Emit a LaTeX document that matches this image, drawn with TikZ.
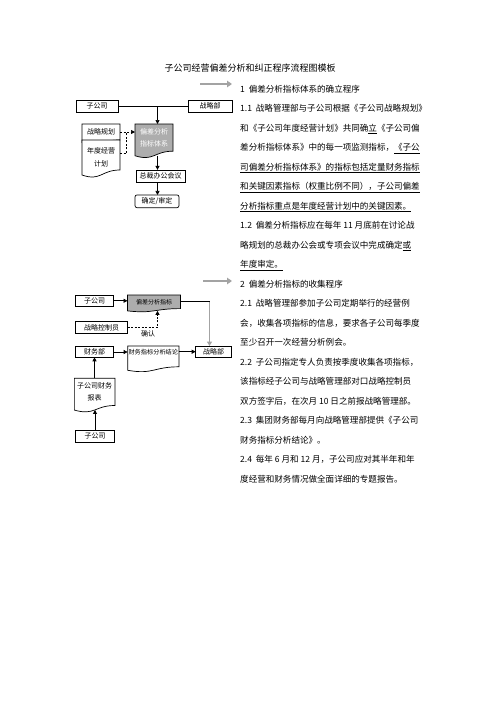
\documentclass[tikz,border=0pt]{standalone}
\usepackage{fontspec}
\setmainfont{Noto Sans CJK SC}
\usepackage{xcolor}
\usetikzlibrary{positioning,calc,arrows.meta}
\pgfdeclarelayer{bg}
\pgfsetlayers{bg,main}
\definecolor{docgray}{HTML}{ADADAD}
\definecolor{arrowgray}{HTML}{A3A3A3}

% outline of a document shape below a node: node, total height
\newcommand{\docshape}[3][]{%
  \begin{pgfonlayer}{bg}
    \path[draw,line width=0.7pt,fill=white,#1] (#2.north west) -- (#2.north east)
      -- ($(#2.north east)+(0,0.8*#3)$)
      .. controls ($(#2.north)+(0,0.8*#3)$) and ($(#2.north)+(0,1.107*#3)$)
      .. ($(#2.north west)+(0,0.934*#3)$) -- cycle;
  \end{pgfonlayer}
  \coordinate (#2-b) at ($(#2.north)+(0,0.93*#3)$);}
\newcommand{\num}[1]{#1\hspace{0.45em}}

\begin{document}
\begin{tikzpicture}[x=1pt,y=-1pt,
    box/.style={draw,line width=0.7pt,inner sep=0pt,outer sep=0pt,
      font=\fontsize{7}{12}\selectfont},
    doc/.style={anchor=north,inner sep=0pt,outer sep=0pt,align=center,
      font=\fontsize{7}{12}\selectfont},
    para/.style={anchor=north west,inner sep=0pt,align=left,
      font=\fontsize{8.55}{19.5}\selectfont},
    link/.style={line width=0.7pt,-{Triangle[length=4pt,width=4pt]}},
    dashlink/.style={line width=0.7pt,dashed,dash pattern=on 2pt off 1.5pt},
    graylink/.style={line width=1.3pt,arrowgray,-{Triangle[length=4.5pt,width=5pt]}},
    bigarrow/.style={line width=2pt,arrowgray,-{Triangle[length=5pt,width=6.5pt]}}]
  \useasboundingbox (0,0) rectangle (496,702);

  \node[font=\fontsize{9}{10}\selectfont] (title) at (250,68) {子公司经营偏差分析和纠正程序流程图模板};

  % part 1
  \draw[bigarrow] (200,84) -- (232,84);
  \node[para] (sec1) at (240,85) {\num{1}偏差分析指标体系的确立程序\\
    \num{1.1}战略管理部与子公司根据《子公司战略规划》\\
    和《子公司年度经营计划》共同确\underline{立}《子公司偏\\
    差分析指标体系》中的每一项监测指标，\underline{《子公}\\
    \underline{司偏差分析指标体系》的指标包括定量财务指标}\\
    \underline{和关键因素指标（权重比例不同），子公司偏差}\\
    \underline{分析指标重点是年度经营计划中的关键因素。}\\
    \num{1.2}偏差分析指标应在每年 11 月底前在讨论战\\
    略规划的总裁办公会或专项会议中完成确定\underline{或}\\
    \underline{年度审定。}};

  \node[box,minimum width=42pt,minimum height=12pt] (sub1) at (97,106) {子公司};
  \node[box,minimum width=44pt,minimum height=12pt] (strat1) at (210,106) {战略部};
  \coordinate (j1) at (157.5,106);

  \node[doc,text=white,minimum width=38pt,text width=38pt,minimum height=27pt] (dev1) at (154,124) {偏差分析\\指标体系};
  \docshape[fill=docgray]{dev1}{34}
  \node[doc,minimum width=38pt,text width=38pt,minimum height=16pt] (plan) at (101,124) {战略规划};
  \docshape{plan}{20}
  \node[doc,minimum width=38pt,text width=38pt,minimum height=34pt,
    font=\fontsize{7}{13}\selectfont] (annual) at (101,140) {年度经营\\计划};
  \docshape{annual}{37.5}

  \node[box,minimum width=49pt,minimum height=12.3pt] (meet) at (160.5,176) {总裁办公会议};
  \node[box,rounded corners=2pt,minimum width=44pt,minimum height=12.7pt] (decide) at (157,201.3) {确定/审定};

  \draw[line width=0.7pt] (sub1) -- (strat1);
  \draw[link] (j1) -- (j1 |- dev1.north);
  \coordinate (d1) at ($(plan.east)!0.45!(plan.east -| dev1.west)$);
  \draw[dashlink,-{Triangle[length=4pt,width=4pt]}] (plan.east) -- (plan.east -| dev1.west);
  \draw[dashlink] ($(annual.east)+(0,-4)$) -| (d1);
  \draw[link] (j1 |- dev1-b) -- (j1 |- meet.north);
  \draw[link] (j1 |- meet.south) -- (j1 |- decide.north);

  % part 2
  \draw[bigarrow] (203,281) -- (232,281);
  \node[para] (sec2) at (240,280) {\num{2}偏差分析指标的收集程序\\
    \num{2.1}战略管理部参加子公司定期举行的经营例\\
    会，收集各项指标的信息，要求各子公司每季度\\
    至少召开一次经营分析例会。\\
    \num{2.2}子公司指定专人负责按季度收集各项指标，\\
    该指标经子公司与战略管理部对口战略控制员\\
    双方签字后，在次月 10 日之前报战略管理部。\\
    \num{2.3}集团财务部每月向战略管理部提供《子公司\\
    财务指标分析结论》。\\
    \num{2.4}每年 6 月和 12 月，子公司应对其半年和年\\
    度经营和财务情况做全面详细的专题报告。};

  \node[box,minimum width=37.6pt,minimum height=11.7pt] (sub2) at (94.5,300.8) {子公司};
  \node[doc,minimum width=53pt,text width=53pt,minimum height=13.6pt,
    font=\fontsize{6}{8}\selectfont] (dev2) at (154,295) {偏差分析指标};
  \docshape[fill=docgray]{dev2}{17}
  \node[box,minimum width=52pt,minimum height=11.6pt] (ctrl) at (101.7,327.5) {战略控制员};
  \node[font=\fontsize{7}{8}\selectfont] (ok) at (148,334) {确认};
  \node[box,minimum width=37.6pt,minimum height=10.6pt] (fin) at (94.5,352) {财务部};
  \node[doc,minimum width=51.3pt,text width=51.3pt,minimum height=11.4pt,
    font=\fontsize{6.2}{8}\selectfont] (findoc) at (153.3,346) {财务指标分析结论};
  \docshape{findoc}{26}
  \node[box,minimum width=36pt,minimum height=11.3pt] (strat2) at (213.7,351.7) {战略部};
  \node[doc,minimum width=40.7pt,text width=40.7pt,minimum height=27.2pt] (ftab) at (94.7,378.3) {子公司财务\\报表};
  \docshape{ftab}{34}
  \node[box,minimum width=38.6pt,minimum height=12.7pt] (sub3) at (95,436.4) {子公司};

  \draw[link] (sub2.east) -- (sub2.east -| dev2.west);
  \path (dev2.east) -- ++(29,0) coordinate (k2);
  \draw[line width=0.7pt] (dev2.east) -- (k2);
  \draw[graylink] (k2) -- (k2 |- strat2.north);
  \draw[dashlink,-{Triangle[length=4pt,width=4pt]}] (ctrl.east) -| ($(dev2-b)+(3.5,0)$);
  \draw[link] (fin.east) -- (fin.east -| findoc.west);
  \draw[link] (findoc.east) -- (findoc.east -| strat2.west);
  \draw[link] (fin.south |- ftab.north) -- (fin.south);
  \draw[link] (sub3.north) -- (sub3.north |- ftab-b);
\end{tikzpicture}
\end{document}
